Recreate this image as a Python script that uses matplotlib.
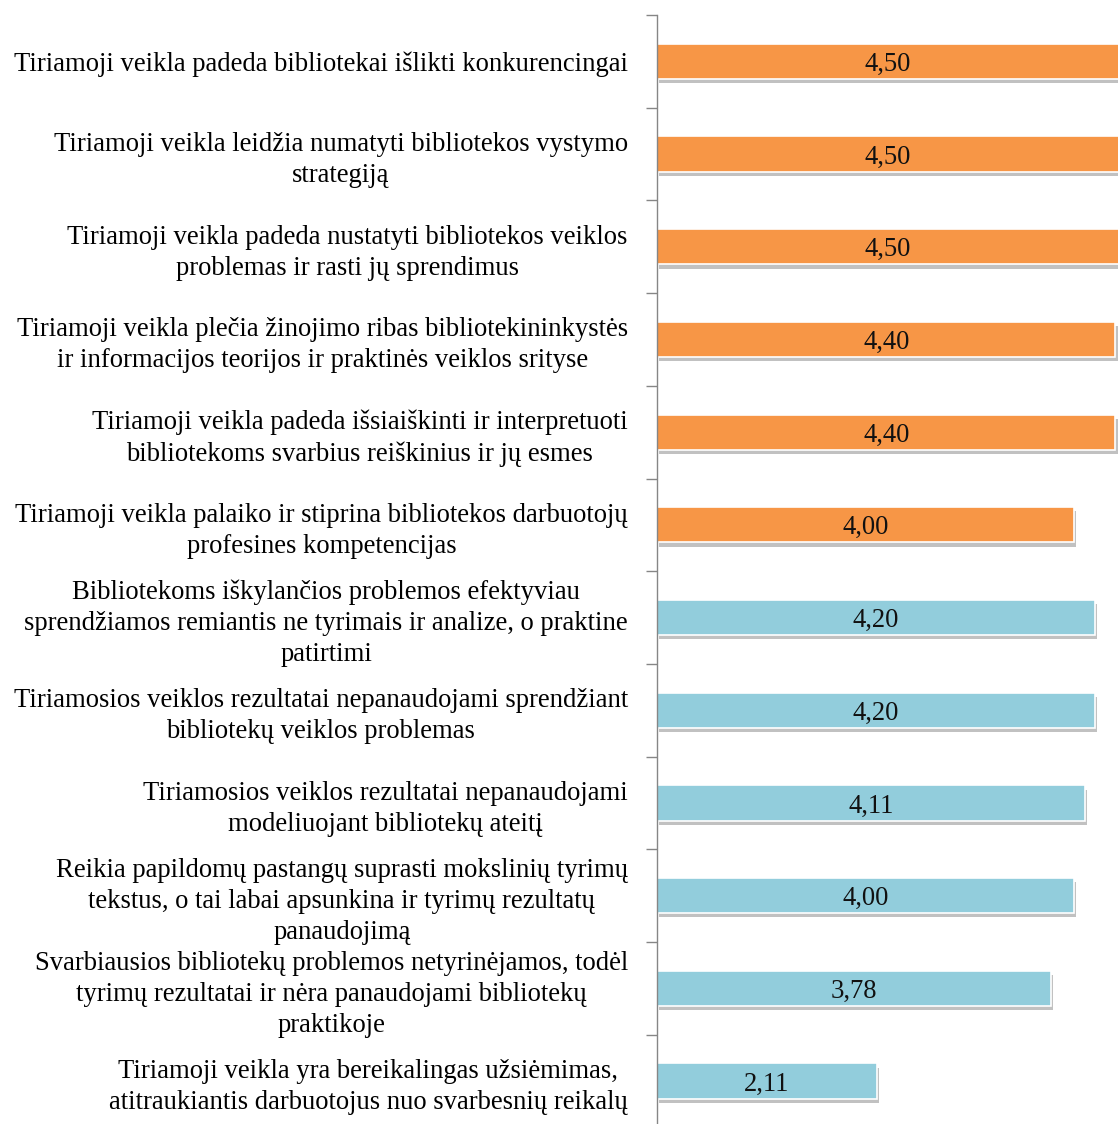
import matplotlib.pyplot as plt
import matplotlib.patheffects as pe
import numpy as np

labels = [
    "Tiriamoji veikla padeda bibliotekai išlikti konkurencingai",
    "Tiriamoji veikla leidžia numatyti bibliotekos vystymo\nstrategiją",
    "Tiriamoji veikla padeda nustatyti bibliotekos veiklos\nproblemas ir rasti jų sprendimus",
    "Tiriamoji veikla plečia žinojimo ribas bibliotekininkystės\nir informacijos teorijos ir praktinės veiklos srityse",
    "Tiriamoji veikla padeda išsiaiškinti ir interpretuoti\nbibliotekoms svarbius reiškinius ir jų esmes",
    "Tiriamoji veikla palaiko ir stiprina bibliotekos darbuotojų\nprofesines kompetencijas",
    "Bibliotekoms iškylančios problemos efektyviau\nsprendžiamos remiantis ne tyrimais ir analize, o praktine\npatirtimi",
    "Tiriamosios veiklos rezultatai nepanaudojami sprendžiant\nbibliotekų veiklos problemas",
    "Tiriamosios veiklos rezultatai nepanaudojami\nmodeliuojant bibliotekų ateitį",
    "Reikia papildomų pastangų suprasti mokslinių tyrimų\ntekstus, o tai labai apsunkina ir tyrimų rezultatų\npanaudojimą",
    "Svarbiausios bibliotekų problemos netyrinėjamos, todėl\ntyrimų rezultatai ir nėra panaudojami bibliotekų\npraktikoje",
    "Tiriamoji veikla yra bereikalingas užsiėmimas,\natitraukiantis darbuotojus nuo svarbesnių reikalų",
]
values = [4.50, 4.50, 4.50, 4.40, 4.40, 4.00, 4.20, 4.20, 4.11, 4.00, 3.78, 2.11]
positive = [True] * 6 + [False] * 6  # orange = positive statements, blue = negative

ORANGE = "#F79646"
BLUE = "#92CDDC"
FS = 19.2

plt.rcParams['font.family'] = ['Liberation Serif', 'DejaVu Serif']

W, H = 1118, 1124
fig = plt.figure(figsize=(W / 100, H / 100), dpi=100)
# axes placed in pixel terms: left spine at x=657, top at y=15, 12 rows of ~92.7 px
x0, x1 = 657, 1118
y_top, row_h = 15, 92.7
n = len(values)
y_bot = y_top + n * row_h
ax = fig.add_axes([x0 / W, (H - y_bot) / H, (x1 - x0) / W, (y_bot - y_top) / H])

px_per_unit = 104.2
xmax = (x1 - x0) / px_per_unit
ax.set_xlim(0, xmax)
ax.set_ylim(n - 0.5, -0.5)

y = np.arange(n)
colors = [ORANGE if p else BLUE for p in positive]
bars = ax.barh(y, values, height=0.38, color=colors, edgecolor="white", linewidth=1.2)
for b in bars:
    b.set_path_effects([pe.SimplePatchShadow(offset=(1.5, -3), shadow_rgbFace="#666666", alpha=0.4),
                        pe.Normal()])

for yi, v in zip(y, values):
    shown = min(v, xmax)
    ax.text(shown / 2, yi, f"{v:.2f}".replace(".", ","), ha="center", va="center_baseline",
            fontsize=FS, color="#111111")

# boundary ticks (major), category labels (minor)
ax.set_yticks(np.arange(n + 1) - 0.5)
ax.set_yticklabels([])
ax.tick_params(axis="y", which="major", length=8, color="#868686", direction="out", width=1)
ax.set_yticks(y, minor=True)
ax.set_yticklabels(labels, minor=True, fontsize=FS)
ax.tick_params(axis="y", which="minor", length=0, pad=21)
for t in ax.get_yticklabels(minor=True):
    t.set_multialignment("center")
    t.set_linespacing(1.31)

ax.set_xticks([])
for s in ["top", "right", "bottom"]:
    ax.spines[s].set_visible(False)
ax.spines["left"].set_color("#868686")
ax.spines["left"].set_linewidth(1)

fig.savefig("out.png", dpi=100)
